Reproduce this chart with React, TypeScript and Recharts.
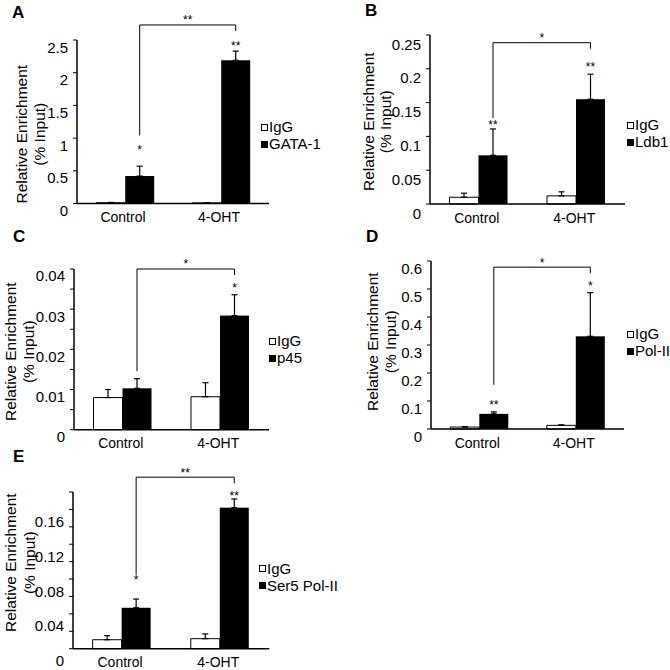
import React from 'react';
import { BarChart, Bar, XAxis, YAxis, ErrorBar } from 'recharts';

const FONT = 'Arial, "Liberation Sans", sans-serif';

const categories = ['Control', '4-OHT'];
const controlName = 'IgG';

// A: GATA-1
const gataIgG = [0.012, 0.01];
const gataIgGErr = [0.004, 0.003];
const gata1 = [0.42, 2.19];
const gata1Err = [0.15, 0.14];
const gataStars = ['*', '**'];
const gataTicks = [0, 0.5, 1, 1.5, 2, 2.5];

// B: Ldb1
const ldbIgG = [0.01, 0.012];
const ldbIgGErr = [0.006, 0.006];
const ldb1 = [0.072, 0.155];
const ldb1Err = [0.039, 0.037];
const ldbStars = ['**', '**'];
const ldbTicks = [0, 0.05, 0.1, 0.15, 0.2, 0.25];

// C: p45
const p45IgG = [0.008, 0.0082];
const p45IgGErr = [0.002, 0.0035];
const p45 = [0.0103, 0.0284];
const p45Err = [0.0024, 0.0052];
const p45Stars = ['', '*'];
const p45Ticks = [0, 0.005, 0.01, 0.015, 0.02, 0.025, 0.03, 0.035, 0.04];
const p45Labels = [0, 0.01, 0.02, 0.03, 0.04];

// D: Pol-II
const polIgG = [0.007, 0.013];
const polIgGErr = [0.001, 0.002];
const pol2 = [0.054, 0.331];
const pol2Err = [0.007, 0.156];
const polStars = ['**', '*'];
const polTicks = [0, 0.1, 0.2, 0.3, 0.4, 0.5, 0.6];

// E: Ser5 Pol-II
const serIgG = [0.0103, 0.0115];
const serIgGErr = [0.0047, 0.0055];
const ser5 = [0.047, 0.162];
const ser5Err = [0.01, 0.01];
const serStars = ['*', '**'];
const serTicks = [0, 0.02, 0.04, 0.06, 0.08, 0.1, 0.12, 0.14, 0.16, 0.18];
const serLabels = [0, 0.04, 0.08, 0.12, 0.16];

type Panel = {
  letter: string;
  target: string;
  igg: number[];
  iggErr: number[];
  val: number[];
  valErr: number[];
  stars: string[];
  pairStar: string;
  ticks: number[];
  labels: number[];
  max: number;
  bracket: [number, number];
  plot: { l: number; r: number; t: number; b: number };
  tickDy: number;
  yLab: { dx1: number; dx2: number; cy: number };
  legend: { x: number; y1: number; y2: number };
  letterPos: { x: number; y: number };
  starGap: number[];
};

const panels: Panel[] = [
  {
    letter: 'A', target: 'GATA-1', igg: gataIgG, iggErr: gataIgGErr, val: gata1, valErr: gata1Err,
    stars: gataStars, pairStar: '**', ticks: gataTicks, labels: gataTicks, max: 2.5, bracket: [1.04, 2.73],
    plot: { l: 77, r: 269, t: 39.8, b: 203.3 }, tickDy: 7, yLab: { dx1: -56, dx2: -38, cy: 134 },
    legend: { x: 261, y1: 127, y2: 144 }, letterPos: { x: 12, y: 12.5 }, starGap: [19, 8],
  },
  {
    letter: 'B', target: 'Ldb1', igg: ldbIgG, iggErr: ldbIgGErr, val: ldb1, valErr: ldb1Err,
    stars: ldbStars, pairStar: '*', ticks: ldbTicks, labels: ldbTicks, max: 0.25, bracket: [0.127, 0.2386],
    plot: { l: 430, r: 625, t: 35, b: 204 }, tickDy: 9, yLab: { dx1: -61.7, dx2: -45, cy: 121.7 },
    legend: { x: 627, y1: 125, y2: 142 }, letterPos: { x: 365, y: 11 }, starGap: [7, 10.5],
  },
  {
    letter: 'C', target: 'p45', igg: p45IgG, iggErr: p45IgGErr, val: p45, valErr: p45Err,
    stars: p45Stars, pairStar: '*', ticks: p45Ticks, labels: p45Labels, max: 0.04, bracket: [0.0146, 0.04],
    plot: { l: 74, r: 269, t: 269.3, b: 430 }, tickDy: 7, yLab: { dx1: -64, dx2: -45.7, cy: 352 },
    legend: { x: 269, y1: 341, y2: 358 }, letterPos: { x: 13, y: 237 }, starGap: [10, 10],
  },
  {
    letter: 'D', target: 'Pol-II', igg: polIgG, iggErr: polIgGErr, val: pol2, valErr: pol2Err,
    stars: polStars, pairStar: '*', ticks: polTicks, labels: polTicks, max: 0.6, bracket: [0.158, 0.578],
    plot: { l: 431, r: 624, t: 261, b: 429 }, tickDy: 7.5, yLab: { dx1: -59, dx2: -41, cy: 341.7 },
    legend: { x: 627, y1: 334, y2: 351 }, letterPos: { x: 366, y: 236.7 }, starGap: [10, 10],
  },
  {
    letter: 'E', target: 'Ser5 Pol-II', igg: serIgG, iggErr: serIgGErr, val: ser5, valErr: ser5Err,
    stars: serStars, pairStar: '**', ticks: serTicks, labels: serLabels, max: 0.18, bracket: [0.085, 0.197],
    plot: { l: 72.7, r: 269, t: 492.3, b: 649 }, tickDy: 12, yLab: { dx1: -63, dx2: -44, cy: 563 },
    legend: { x: 259, y1: 568.5, y2: 585.5 }, letterPos: { x: 13, y: 456.7 }, starGap: [22, 6],
  },
];

const ML = 80;
const MT = 40;
const MR = 10;
const XH = 30;

function XTick(props: any) {
  const { x, y, payload } = props;
  return (
    <text x={x - 2} y={y + 13.5} textAnchor="middle" dominantBaseline="central" fontSize={14} fontFamily={FONT} fill="#000">
      {payload.value}
    </text>
  );
}

function YTick(props: any) {
  const { x, y, payload, labels, dy } = props;
  if (!labels.some((v: number) => Math.abs(v - payload.value) < 1e-9)) return <g />;
  return (
    <text x={x} y={y + dy} textAnchor="end" dominantBaseline="central" fontSize={15} fontFamily={FONT} fill="#000">
      {String(payload.value)}
    </text>
  );
}

function TargetShape(props: any) {
  const { x, y, width, height, index, payload, cfg, band } = props;
  const c: Panel = cfg;
  const base = y + height;
  const k = height / payload.val;
  const yOf = (v: number) => base - v * k;
  const cx = x + width / 2;
  const errTop = yOf(payload.val + c.valErr[index]);
  const star = c.stars[index];
  let bracket = null;
  if (index === 1) {
    const cx0 = cx - band;
    const top = yOf(c.bracket[1]);
    bracket = (
      <g>
        <path d={`M${cx0},${yOf(c.bracket[0])}V${top}H${cx}V${top + 6}`} fill="none" stroke="#000" strokeWidth={1} />
        <text x={(cx0 + cx) / 2} y={top - 0.5} textAnchor="middle" fontSize={12} fontFamily={FONT} fill="#000">
          {c.pairStar}
        </text>
      </g>
    );
  }
  return (
    <g>
      <rect x={x} y={y} width={width} height={height} fill="#000" />
      {star ? (
        <text x={cx} y={errTop - c.starGap[index] + 7} textAnchor="middle" fontSize={12} fontFamily={FONT} fill="#000">
          {star}
        </text>
      ) : null}
      {bracket}
    </g>
  );
}

function PanelChart({ cfg }: { cfg: Panel }) {
  const { plot } = cfg;
  const w = plot.r - plot.l;
  const h = plot.b - plot.t;
  const band = w / categories.length;
  const data = categories.map((name, i) => ({
    name,
    igg: cfg.igg[i],
    iggErr: [0, cfg.iggErr[i]],
    val: cfg.val[i],
    valErr: [0, cfg.valErr[i]],
  }));
  const yLabel = () => {
    const cy = cfg.yLab.cy - (plot.t - MT);
    return (
      <g fontFamily={FONT} fontSize={15.5} fill="#000">
        <text transform={`translate(${ML + cfg.yLab.dx1},${cy}) rotate(-90)`} textAnchor="middle" dominantBaseline="central">
          Relative Enrichment
        </text>
        <text transform={`translate(${ML + cfg.yLab.dx2},${cy}) rotate(-90)`} textAnchor="middle" dominantBaseline="central">
          (% Input)
        </text>
      </g>
    );
  };
  return (
    <div style={{ position: 'absolute', left: plot.l - ML, top: plot.t - MT }}>
      <BarChart
        width={w + ML + MR}
        height={h + MT + XH}
        data={data}
        margin={{ top: MT, right: MR, bottom: 0, left: ML - 50 }}
        barGap={0}
        barCategoryGap="20%"
      >
        <XAxis
          dataKey="name"
          height={XH}
          interval={0}
          axisLine={{ stroke: '#000', strokeWidth: 1.5 }}
          tickLine={false}
          tickSize={0}
          tickMargin={0}
          tick={<XTick />}
        />
        <YAxis
          width={50}
          type="number"
          domain={[0, cfg.max]}
          ticks={cfg.ticks}
          interval={0}
          axisLine={{ stroke: '#000', strokeWidth: 1.5 }}
          tickLine={{ stroke: '#000', strokeWidth: 1 }}
          tickSize={4}
          tickMargin={5}
          tick={<YTick labels={cfg.labels} dy={cfg.tickDy} />}
          label={yLabel}
        />
        <Bar dataKey="igg" fill="#fff" stroke="#000" strokeWidth={1} isAnimationActive={false}>
          <ErrorBar dataKey="iggErr" width={3} stroke="#000" strokeWidth={1.2} isAnimationActive={false} />
        </Bar>
        <Bar
          dataKey="val"
          fill="#000"
          isAnimationActive={false}
          shape={(p: any) => <TargetShape {...p} cfg={cfg} band={band} />}
        >
          <ErrorBar dataKey="valErr" width={3} stroke="#000" strokeWidth={1.2} isAnimationActive={false} />
        </Bar>
      </BarChart>
    </div>
  );
}

function LegendRow({ x, y, label, filled }: { x: number; y: number; label: string; filled: boolean }) {
  return (
    <div
      style={{
        position: 'absolute', left: x, top: y - 7, height: 14, lineHeight: '14px', display: 'flex', alignItems: 'center',
        fontFamily: FONT, fontSize: 15, whiteSpace: 'nowrap', color: '#000',
      }}
    >
      <span
        style={{
          display: 'inline-block', width: 7, height: 7, boxSizing: 'border-box',
          border: '1px solid #000', background: filled ? '#000' : '#fff', marginRight: 1,
        }}
      />
      <span>{label}</span>
    </div>
  );
}

export default function App() {
  return (
    <div style={{ position: 'absolute', left: 0, top: 0, width: 670, height: 670, background: '#fff', overflow: 'hidden' }}>
      {panels.map((p) => (
        <React.Fragment key={p.letter}>
          <PanelChart cfg={p} />
          <div
            style={{
              position: 'absolute', left: p.letterPos.x, top: p.letterPos.y - 9, fontFamily: FONT,
              fontWeight: 'bold', fontSize: 17, lineHeight: '18px', color: '#000',
            }}
          >
            {p.letter}
          </div>
          <LegendRow x={p.legend.x} y={p.legend.y1} label={controlName} filled={false} />
          <LegendRow x={p.legend.x} y={p.legend.y2} label={p.target} filled={true} />
        </React.Fragment>
      ))}
    </div>
  );
}
